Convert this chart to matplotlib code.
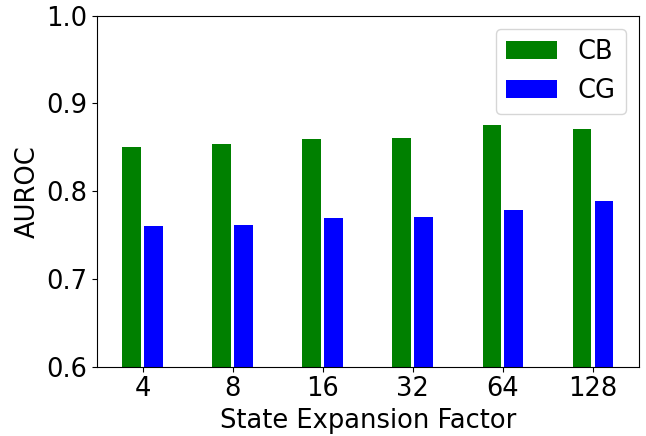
import numpy as np
import matplotlib
matplotlib.use('Agg')
import matplotlib.pyplot as plt

factors = ['4', '8', '16', '32', '64', '128']
cb_auroc = [0.850, 0.854, 0.860, 0.861, 0.875, 0.871]
cg_auroc = [0.760, 0.761, 0.770, 0.771, 0.779, 0.789]

plt.rcParams['font.size'] = 18.5

fig, ax = plt.subplots(figsize=(6.46, 4.36), dpi=100)
fig.subplots_adjust(left=0.150, right=0.989, top=0.964, bottom=0.159)

x = np.arange(len(factors))
bar_width = 0.21
ax.bar(x - 0.122, cb_auroc, bar_width, color='green', label='CB')
ax.bar(x + 0.122, cg_auroc, bar_width, color='blue', label='CG')

ax.set_xticks(x)
ax.set_xticklabels(factors)
ax.set_xlim(-0.51, 5.51)
ax.set_ylim(0.6, 1.0)
ax.set_yticks([0.6, 0.7, 0.8, 0.9, 1.0])
ax.set_xlabel('State Expansion Factor')
ax.set_ylabel('AUROC')
ax.legend(loc='upper right')

fig.savefig('out.png', dpi=100)
